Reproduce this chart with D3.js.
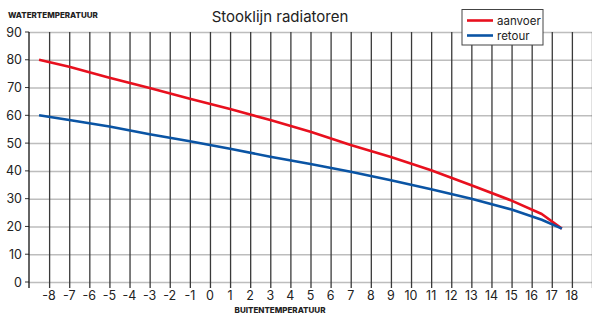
<!DOCTYPE html>
<html>
<head>
<meta charset="utf-8">
<script src="https://cdn.jsdelivr.net/npm/d3@7"></script>
<style>
  body { margin: 0; background: #fff; }
  text { font-family: Inter, "Noto Sans", sans-serif; fill: #222; }
</style>
</head>
<body>
<script>
// outside temperature (x) and water temperatures
const outsideTemps = [-8.5, -7, -5, -3, -1, 1, 3, 5, 7, 9, 11, 13, 15, 16.5, 17.5];
const supplyTemps  = [80, 77.5, 73.5, 69.8, 66.0, 62.3, 58.3, 54.1, 49.3, 45.0, 40.2, 34.8, 29.3, 24.5, 19.2];
const returnTemps  = [60, 58.3, 56.0, 53.2, 50.7, 48.0, 45.1, 42.5, 39.7, 36.6, 33.4, 30.0, 26.1, 22.4, 19.2];
const seriesNames  = ["aanvoer", "retour"];
const seriesColors = ["#e8101e", "#0a54a4"];
const xTicks = d3.range(-8, 19);
const yTicks = d3.range(0, 91, 10);

const width = 592, height = 313;
const plotLeft = 29, plotRight = 592, plotTop = 32, plotBottom = 282;

const svg = d3.select("body").append("svg")
    .attr("width", width)
    .attr("height", height);

const x = d3.scaleLinear().domain([-9, 19]).range([plotLeft, plotRight]);
const y = d3.scaleLinear().domain([0, 90]).range([plotBottom, plotTop]);

// horizontal grid (light gray)
svg.append("g")
   .attr("transform", "translate(" + plotLeft + ",0)")
   .call(d3.axisLeft(y).tickValues(yTicks).tickSize(-(plotRight - plotLeft)).tickSizeOuter(0).tickPadding(7))
   .call(g => g.select(".domain").remove())
   .call(g => g.selectAll(".tick line").attr("stroke", "#bdbdbd").attr("stroke-width", 1.5))
   .call(g => g.selectAll(".tick text").style("font-size", "12.5px").attr("fill", "#222"));

// small y ticks to the left of the axis
svg.append("g")
   .selectAll("line")
   .data(yTicks)
   .enter().append("line")
   .attr("x1", plotLeft - 4).attr("x2", plotLeft)
   .attr("y1", d => y(d)).attr("y2", d => y(d))
   .attr("stroke", "#333");

// vertical grid (dark)
svg.append("g")
   .attr("transform", "translate(0," + plotTop + ")")
   .call(d3.axisBottom(x).tickValues(xTicks.concat([19])).tickSize(plotBottom - plotTop + 6).tickFormat(""))
   .call(g => g.select(".domain").remove())
   .call(g => g.selectAll(".tick line").attr("stroke", "#3a3a3a").attr("stroke-width", 1.3));

// x tick labels
svg.append("g")
   .selectAll("text")
   .data(xTicks)
   .enter().append("text")
   .attr("x", d => x(d))
   .attr("y", 300)
   .attr("text-anchor", "middle")
   .style("font-size", "12.5px")
   .text(d => d);

// y axis line
svg.append("line")
   .attr("x1", plotLeft).attr("x2", plotLeft)
   .attr("y1", plotTop).attr("y2", plotBottom + 6)
   .attr("stroke", "#111").attr("stroke-width", 1.3);

// lines
const line = d3.line()
    .x((d, i) => x(outsideTemps[i]))
    .y(d => y(d));

[supplyTemps, returnTemps].forEach(function(vals, i) {
    svg.append("path")
       .datum(vals)
       .attr("d", line)
       .attr("fill", "none")
       .attr("stroke", seriesColors[i])
       .attr("stroke-width", 2.6)
       .attr("stroke-linejoin", "round");
});

// titles
svg.append("text")
   .attr("x", 280).attr("y", 22)
   .attr("text-anchor", "middle")
   .style("font-size", "15px")
   .text("Stooklijn radiatoren");

svg.append("text")
   .attr("x", 8).attr("y", 18)
   .style("font-size", "8px")
   .style("font-weight", "800")
   .text("WATERTEMPERATUUR");

svg.append("text")
   .attr("x", 280).attr("y", 312.5)
   .attr("text-anchor", "middle")
   .style("font-size", "8px")
   .style("font-weight", "800")
   .text("BUITENTEMPERATUUR");

// legend
const legend = svg.append("g").attr("transform", "translate(462,9.5)");
legend.append("rect")
      .attr("width", 81).attr("height", 35.5)
      .attr("fill", "#fff")
      .attr("stroke", "#444").attr("stroke-width", 1);

seriesNames.forEach(function(name, i) {
    legend.append("line")
          .attr("x1", 5).attr("x2", 31)
          .attr("y1", 11 + i * 15).attr("y2", 11 + i * 15)
          .attr("stroke", seriesColors[i]).attr("stroke-width", 2.6);
    legend.append("text")
          .attr("x", 35).attr("y", 15 + i * 15)
          .style("font-size", "11.5px")
          .text(name);
});
</script>
</body>
</html>
